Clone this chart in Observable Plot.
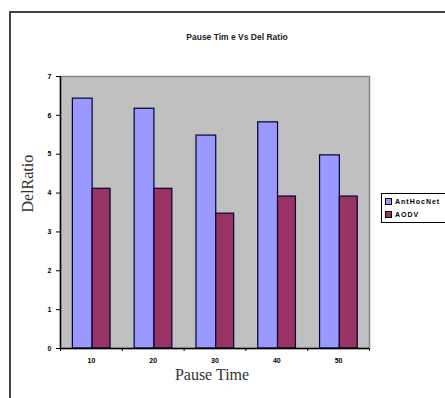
<!DOCTYPE html>
<html><head><meta charset="utf-8">
<script src="https://cdn.jsdelivr.net/npm/d3@7"></script>
<script src="https://cdn.jsdelivr.net/npm/@observablehq/plot@0.6"></script>
<style>
body{margin:0;background:#fff;}
#wrap{position:relative;width:445px;height:398px;overflow:hidden;background:#fff;}
#border{position:absolute;left:9px;top:11px;width:460px;height:420px;border:2px solid #444;box-sizing:border-box;}
#legend{position:absolute;left:381px;top:193px;width:90px;height:28px;border:1px solid #000;background:#fff;font:bold 7px "Liberation Sans",Arial,sans-serif;letter-spacing:1px;}
#legend div{display:flex;align-items:center;height:11px;margin-left:3px;margin-top:2px;}
#legend span.sw{display:inline-block;width:5px;height:5px;border:1px solid #000;margin-right:3px;}
svg{position:absolute;left:0;top:0;}
</style></head>
<body><div id="wrap"><div id="border"></div></div>
<script>
const pauseTimes = [10, 20, 30, 40, 50];
const seriesNames = ["AntHocNet", "AODV"];
const antHocNet = [6.43, 6.17, 5.48, 5.82, 4.97];
const aodv = [4.11, 4.11, 3.47, 3.91, 3.91];
const yTicks = [0, 1, 2, 3, 4, 5, 6, 7];
const colors = ["#9999ff", "#993366"];

const data = [];
pauseTimes.forEach((t, i) => {
  data.push({t, s: seriesNames[0], v: antHocNet[i], x1: t - 3.0, x2: t + 0.2});
  data.push({t, s: seriesNames[1], v: aodv[i], x1: t + 0.2, x2: t + 3.1});
});
const boundaries = [5, 15, 25, 35, 45, 55];

const chart = Plot.plot({
  width: 445, height: 398,
  marginLeft: 60, marginRight: 76, marginTop: 76, marginBottom: 50,
  style: {fontFamily: "'Liberation Sans', Arial, sans-serif", background: "transparent"},
  x: {domain: [5, 55], axis: null},
  y: {domain: [0, 7], axis: null},
  color: {domain: seriesNames, range: colors},
  marks: [
    Plot.frame({fill: "#c0c0c0", stroke: "#888", strokeWidth: 1.5}),
    Plot.rectY(data, {x1: "x1", x2: "x2", y: "v", fill: "s", stroke: "#000033", strokeWidth: 1.2}),
    Plot.axisY({ticks: yTicks, tickSize: 4, tickPadding: 5, tickFormat: d => d, fontSize: 7, fontWeight: "bold", label: null}),
    Plot.axisX({ticks: pauseTimes, tickSize: 0, tickPadding: 10, fontSize: 7, fontWeight: "bold", label: null}),
    Plot.axisX({ticks: boundaries, tickSize: 3, tickFormat: () => "", label: null}),
    Plot.ruleX([5], {stroke: "#000", strokeWidth: 1.5}),
    Plot.ruleY([0], {stroke: "#000", strokeWidth: 1.5}),
    Plot.text(["DelRatio"], {frameAnchor: "left", dx: -33, rotate: -90, fontSize: 16, fontFamily: "'Liberation Serif', 'Times New Roman', serif", fill: "#333"}),
    Plot.text(["Pause Time"], {frameAnchor: "bottom", dy: 31, dx: -3, fontSize: 16, fontFamily: "'Liberation Serif', 'Times New Roman', serif", fill: "#333"}),
    Plot.text(["Pause Tim e Vs Del Ratio"], {frameAnchor: "top", dy: -43, dx: 22, fontSize: 8.5, fontWeight: "bold", fill: "#222", letterSpacing: "0.6px"})
  ]
});
const wrap = document.getElementById("wrap");
wrap.appendChild(chart);
const legend = document.createElement("div");
legend.id = "legend";
seriesNames.forEach((n, i) => {
  const row = document.createElement("div");
  const sw = document.createElement("span");
  sw.className = "sw"; sw.style.background = colors[i];
  row.appendChild(sw);
  row.appendChild(document.createTextNode(n));
  legend.appendChild(row);
});
wrap.appendChild(legend);
</script></body></html>
